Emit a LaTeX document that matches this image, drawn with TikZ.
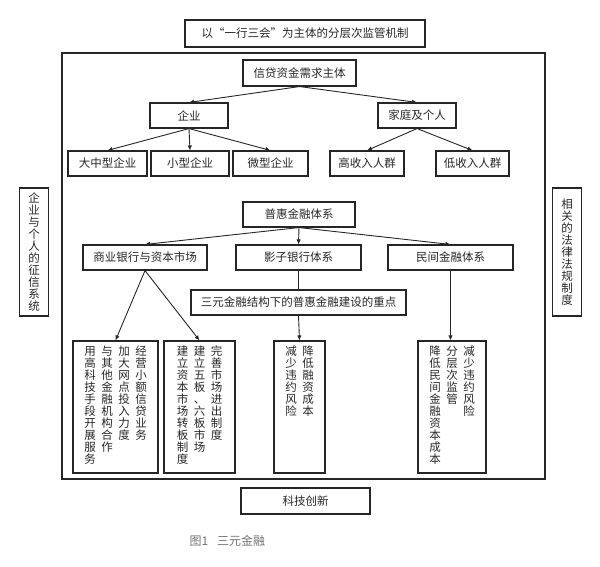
\documentclass[tikz,border=0pt]{standalone}
\usepackage{fontspec}
\setmainfont{Noto Sans CJK SC}
\usetikzlibrary{arrows.meta,positioning}
\makeatletter
% one column of upright characters, read top to bottom
\newcommand\vcol[1]{\parbox[t]{17pt}{\centering\@tfor\vch:=#1\do{\vch\par}}}
\makeatother

\begin{document}
\begin{tikzpicture}[x=1pt,y=-1pt,>={Latex[length=5pt,width=4.5pt]},
  every node/.style={font=\fontsize{11.5}{12}\selectfont,text=black!85},
  box/.style={draw=black!85,line width=1.1pt,inner sep=0pt,minimum height=25,align=center},
  tall/.style={box,minimum height=132},
  side/.style={box,minimum width=29,minimum height=128},
  imp/.style={->,draw=black!85,line width=0.9pt}]
  \useasboundingbox (0,0) rectangle (600,567);
  \node[box,minimum width=240,minimum height=27,
    font={\fontsize{11.5}{12}\selectfont\addfontfeatures{CharacterWidth=Full}}] (regul) at (305,33.5) {以“一行三会”为主体的分层次监管机制};
  \node[box,minimum width=483,minimum height=426] (frame) at (303.5,266) {};
  \node[side] (credit) at (34,252) {\vcol{企业与个人的征信系统}};
  \node[side] (law) at (567,252) {\vcol{相关的法律法规制度}};
  \node[box,minimum width=129,minimum height=26] (tech) at (305.5,501) {科技创新};
  \node[text=black!55,anchor=west,font=\fontsize{12}{13}\selectfont] (cap) at (186,541) {图1\hspace{9pt}三元金融};
  % demand side
  \node[box,minimum width=113,minimum height=26] (demand) at (299.5,73) {信贷资金需求主体};
  \node[box,minimum width=78] (firm) at (189,115.5) {企业};
  \node[box,minimum width=78] (home) at (417,115.5) {家庭及个人};
  \node[box,minimum width=79] (big) at (107.5,163.5) {大中型企业};
  \node[box,minimum width=78] (small) at (190,163.5) {小型企业};
  \node[box,minimum width=75] (micro) at (270.5,163.5) {微型企业};
  \node[box,minimum width=74] (high) at (367,163.5) {高收入人群};
  \node[box,minimum width=73] (low) at (472.5,163.5) {低收入人群};
  \draw[imp] (demand.south) -- (firm.north);
  \draw[imp] (demand.south) -- (home.north);
  \draw[imp] (firm.south) -- (big.north);
  \draw[imp] (firm.south) -- (small.north);
  \draw[imp] (firm.south) -- (micro.north);
  \draw[imp] (home.south) -- (high.north);
  \draw[imp] (home.south) -- (low.north);
  % supply side
  \node[box,minimum width=112] (incl) at (299,214.5) {普惠金融体系};
  \node[box,minimum width=124] (bank) at (145,257.5) {商业银行与资本市场};
  \node[box,minimum width=125] (shadow) at (298.5,257.5) {影子银行体系};
  \node[box,minimum width=125] (priv) at (450.5,257.5) {民间金融体系};
  \node[box,minimum width=215] (key) at (298.5,302.5) {三元金融结构下的普惠金融建设的重点};
  \node[tall,minimum width=85] (svc) at (115.5,407) {};
  \node[tall,minimum width=71] (mkt) at (199.5,407) {};
  \node[tall,minimum width=51] (cost) at (299.5,407) {};
  \node[tall,minimum width=68] (risk) at (452,407) {};
  \node[inner sep=0pt,below=5pt of svc.north] (svc-t)
    {\vcol{用高科技手段开展服务}\vcol{与其他金融机构合作}\vcol{加大网点投入力度}\vcol{经营小额信贷业务}};
  \node[inner sep=0pt,below=5pt of mkt.north] (mkt-t)
    {\vcol{建立资本市场转板制度}\vcol{建立五板、六板市场}\vcol{完善市场进出制度}};
  \node[inner sep=0pt,below=5pt of cost.north] (cost-t)
    {\vcol{减少违约风险}\vcol{降低融资成本}};
  \node[inner sep=0pt,below=5pt of risk.north] (risk-t)
    {\vcol{降低民间金融资本成本}\vcol{分层次监管}\vcol{减少违约风险}};
  \draw[imp] (incl.south) -- (bank.north);
  \draw[imp] (incl.south) -- (shadow.north);
  \draw[imp] (incl.south) -- (priv.north);
  \draw[imp] (bank.south) -- (svc.north);
  \draw[imp] (bank.south) -- (mkt.north);
  \draw[imp,-] (shadow.south) -- (key.north);
  \draw[imp] (key.south) -- (cost.north);
  \draw[imp] (priv.south) -- (priv.south |- risk.north);
\end{tikzpicture}
\end{document}
